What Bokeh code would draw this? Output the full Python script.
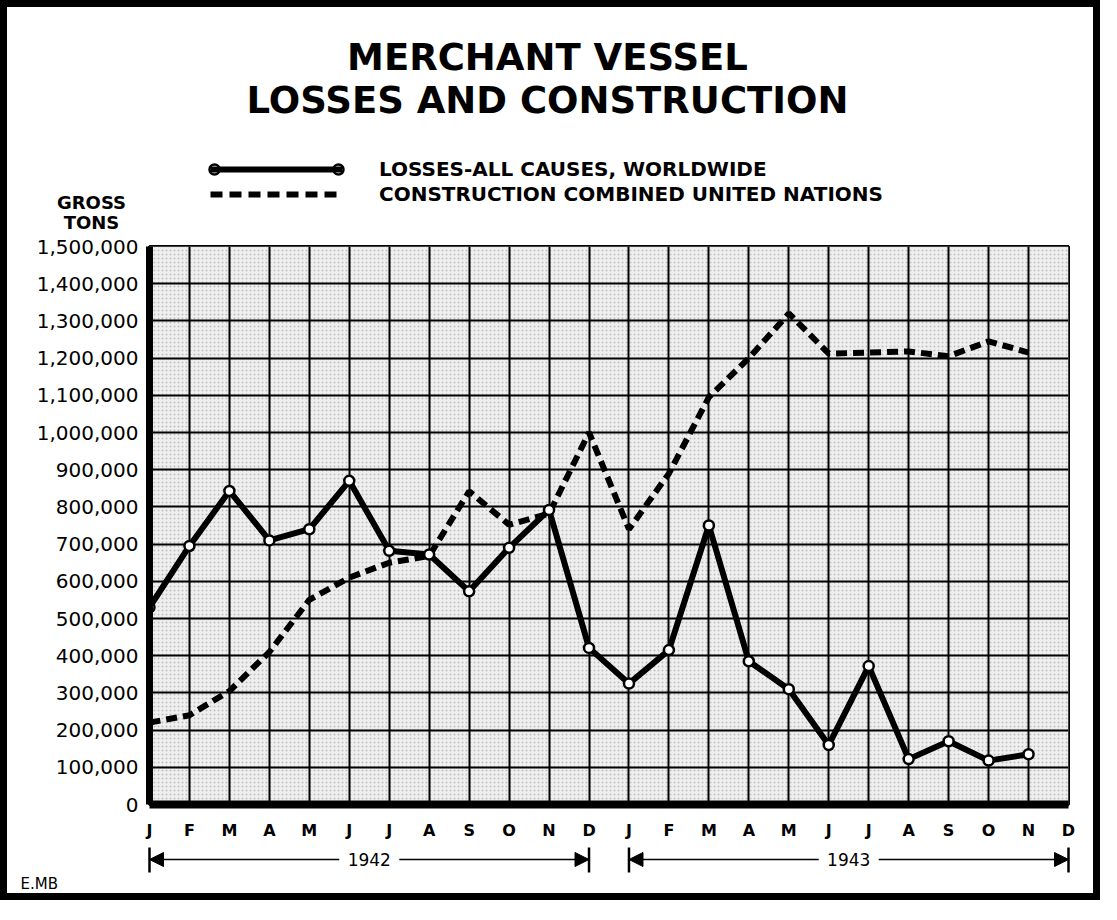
from bokeh.plotting import figure
from bokeh.layouts import column
from bokeh.models import (Range1d, FixedTicker, Legend, LegendItem, Arrow, NormalHead)
from bokeh.core.properties import value
from bokeh.embed import file_html
from bokeh.resources import INLINE

# ---------------- data ----------------
month_labels = ["J", "F", "M", "A", "M", "J", "J", "A", "S", "O", "N", "D",
                "J", "F", "M", "A", "M", "J", "J", "A", "S", "O", "N", "D"]
year_labels = ["1942", "1943"]
y_tick_values = [0, 100000, 200000, 300000, 400000, 500000, 600000, 700000,
                 800000, 900000, 1000000, 1100000, 1200000, 1300000, 1400000, 1500000]
y_tick_labels = ["0", "100,000", "200,000", "300,000", "400,000", "500,000",
                 "600,000", "700,000", "800,000", "900,000", "1,000,000",
                 "1,100,000", "1,200,000", "1,300,000", "1,400,000", "1,500,000"]
# Jan 1942 .. Nov 1943 (gross tons)
losses = [530000, 695000, 843000, 710000, 740000, 870000, 682000, 672000,
          573000, 690000, 792000, 421000, 325000, 415000, 750000, 385000,
          310000, 160000, 372000, 122000, 170000, 118000, 135000]
construction = [220000, 240000, 305000, 410000, 550000, 610000, 650000, 668000,
                842000, 752000, 782000, 1000000, 740000, 890000, 1095000, 1200000,
                1320000, 1212000, 1215000, 1218000, 1205000, 1245000, 1215000]
legend_labels = ["LOSSES-ALL CAUSES, WORLDWIDE", "CONSTRUCTION COMBINED UNITED NATIONS"]
title_lines = ["MERCHANT VESSEL", "LOSSES AND CONSTRUCTION"]
y_title_lines = ["GROSS", "TONS"]
credit = "E.MB"
year_starts = [0, 12]
year_ends = [11, 23]

# ---------------- layout (canvas pixels) ----------------
W = 1100
FL, FR, FT, FB = 149, 1068, 246, 812   # grid frame edges
TOP_H = 232                            # header strip height
MAIN_BOTTOM = 842                      # bottom of the main figure
TOTAL_H = 900
FONT = "DejaVu Sans"
N_MONTHS = len(month_labels)
XMAX = N_MONTHS - 1
YMAX = y_tick_values[-1]


def month_px(i):
    return FL + i * (FR - FL) / XMAX


def blank(height):
    f = figure(width=W, height=height, x_range=Range1d(0, W), y_range=Range1d(height, 0),
               min_border=0, x_axis_location=None, y_axis_location=None,
               output_backend="svg", toolbar_location=None, frame_align=False)
    f.grid.visible = False
    f.outline_line_color = None
    f.background_fill_color = None
    f.border_fill_color = None
    return f


# ---------------- header: title, legend, y title ----------------
pt = blank(TOP_H)
pt.text(x=[547, 547], y=[57, 100], text=title_lines, text_align="center",
        text_baseline="middle", text_font=value(FONT), text_font_size="37px",
        text_font_style="bold", text_color="black")
pt.text(x=[91, 91], y=[202, 222], text=y_title_lines, text_align="center",
        text_baseline="middle", text_font=value(FONT), text_font_size="18px",
        text_font_style="bold", text_color="black")

LG_X, LG_Y, LG_W, LG_GH, LG_SP = 210, 157, 132, 24, 1
LG_H = 2 * LG_GH + LG_SP
# legend sample renderers (kept outside the visible area)
lr_l = pt.line(x=[-50, -40], y=[-50, -50], line_width=6, line_color="black")
lr_c = pt.line(x=[-50, -40], y=[-50, -50], line_width=6, line_color="black",
               line_dash="12 7")
legend = Legend(items=[LegendItem(label=legend_labels[0], renderers=[lr_l]),
                       LegendItem(label=legend_labels[1], renderers=[lr_c])],
                location=(LG_X, TOP_H - LG_Y - LG_H), orientation="vertical",
                glyph_width=LG_W, glyph_height=LG_GH, label_height=LG_GH,
                spacing=LG_SP, label_standoff=37, padding=0, margin=0,
                border_line_color=None, background_fill_alpha=0,
                label_text_font=FONT, label_text_font_size="20px",
                label_text_font_style="bold", label_text_color="black")
pt.add_layout(legend)
pt.scatter(x=[LG_X + 4, LG_X + LG_W - 4], y=[LG_Y + LG_GH / 2] * 2, size=10,
           fill_color="white", line_color="black", line_width=2.5, level="overlay")

# ---------------- main chart ----------------
MAIN_H = MAIN_BOTTOM - TOP_H
xs = list(range(len(losses)))
p = figure(width=W, height=MAIN_H, x_range=Range1d(0, XMAX), y_range=Range1d(0, YMAX),
           min_border_left=FL, min_border_right=W - FR, min_border_top=FT - TOP_H,
           min_border_bottom=MAIN_BOTTOM - FB, output_backend="svg",
           toolbar_location=None, frame_align=False)
p.border_fill_color = None
p.background_fill_color = "#eeeeee"
p.outline_line_color = "black"
p.outline_line_width = 3

# stippled paper inside the grid
p.quad(left=0, right=XMAX, bottom=0, top=YMAX, fill_color="#efefef",
       line_color=None, hatch_pattern="dot", hatch_scale=4, hatch_weight=1,
       hatch_color="#909090", hatch_alpha=0.5, level="image")

p.xgrid.ticker = FixedTicker(ticks=list(range(N_MONTHS)))
p.ygrid.ticker = FixedTicker(ticks=y_tick_values)
for g in (p.xgrid, p.ygrid):
    g.grid_line_color = "black"
    g.grid_line_width = 2
    g.grid_line_alpha = 1

p.xaxis.ticker = FixedTicker(ticks=list(range(N_MONTHS)))
p.xaxis.major_label_overrides = {i: m for i, m in enumerate(month_labels)}
p.yaxis.ticker = FixedTicker(ticks=y_tick_values)
p.yaxis.major_label_overrides = {v: t for v, t in zip(y_tick_values, y_tick_labels)}
for ax in (p.xaxis, p.yaxis):
    ax.axis_line_color = "black"
    ax.major_tick_line_color = None
    ax.minor_tick_line_color = None
    ax.major_label_text_font = FONT
    ax.major_label_text_color = "black"
p.xaxis.axis_line_width = 8
p.yaxis.axis_line_width = 7
p.xaxis.major_label_text_font_size = "16px"
p.xaxis.major_label_text_font_style = "bold"
p.xaxis.major_label_standoff = 10
p.yaxis.major_label_text_font_size = "20px"
p.yaxis.major_label_standoff = 5

p.line(xs, construction, line_width=6, line_color="black", line_dash="11 6")
p.line(xs, losses, line_width=6, line_color="black")
p.scatter(xs, losses, size=10, fill_color="white", line_color="black", line_width=2.5)

# ---------------- footer: year brackets and credit ----------------
BOT_H = TOTAL_H - MAIN_BOTTOM
pb = blank(BOT_H)
YB, BAR_T, BAR_B = 17, 5, 30
for lab, s, e in zip(year_labels, year_starts, year_ends):
    xs0, xe0 = month_px(s), month_px(e)
    c = (xs0 + xe0) / 2
    pb.text(x=[c], y=[YB], text=[lab], text_align="center", text_baseline="middle",
            text_font=value(FONT), text_font_size="17px", text_color="black")
    pb.segment(x0=[xs0, xe0], y0=[BAR_T, BAR_T], x1=[xs0, xe0], y1=[BAR_B, BAR_B],
               line_width=2.5, line_color="black")
    for tip, inner in ((xs0, c - 30), (xe0, c + 30)):
        pb.add_layout(Arrow(x_start=inner, y_start=YB, x_end=tip, y_end=YB,
                            line_width=1.5, line_color="black",
                            end=NormalHead(size=14, fill_color="black", line_color="black")))
pb.text(x=[20], y=[41], text=[credit], text_align="left", text_baseline="middle",
        text_font=value(FONT), text_font_size="15px", text_color="black")

layout = column(pt, p, pb, spacing=0)
layout.styles = {"outline": "7px solid black", "outline-offset": "-7px"}

open("out.html", "w").write(file_html(layout, INLINE))
